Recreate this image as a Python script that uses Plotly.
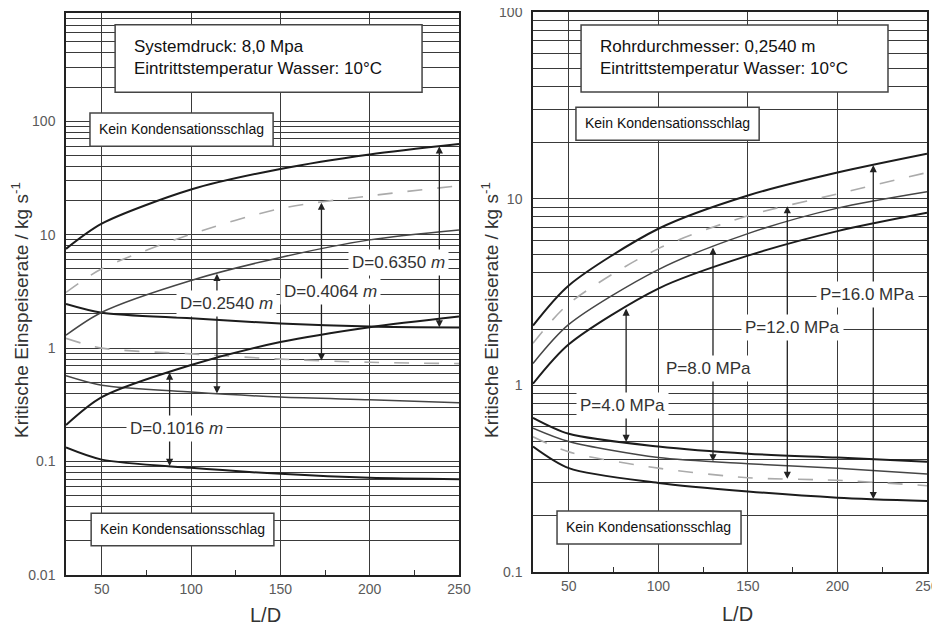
import numpy as np
import plotly.graph_objects as go

# ---------------- data ----------------
LD = [30, 50, 100, 150, 200, 250]

# left chart: system pressure 8.0 MPa, different pipe diameters
D0635_upper = [7.5, 12.5, 25, 38, 51, 63]
D0635_lower = [2.45, 2.05, 1.83, 1.65, 1.55, 1.52]
D04064_upper = [3.1, 5.0, 10.1, 17, 22, 27]
D04064_lower = [1.22, 1.0, 0.89, 0.8, 0.75, 0.73]
D0254_upper = [1.3, 2.07, 3.95, 6.3, 9.0, 11.0]
D0254_lower = [0.57, 0.47, 0.41, 0.37, 0.35, 0.33]
D01016_upper = [0.21, 0.37, 0.71, 1.13, 1.53, 1.9]
D01016_lower = [0.133, 0.104, 0.088, 0.078, 0.072, 0.07]

# right chart: diameter 0.2540 m, different pressures
P16_upper = [2.09, 3.43, 6.9, 10.4, 13.8, 17.4]
P12_upper = [1.68, 2.74, 5.4, 8.1, 10.6, 13.8]
P8_upper = [1.31, 2.12, 4.17, 6.5, 8.9, 10.9]
P4_upper = [1.02, 1.66, 3.3, 4.95, 6.7, 8.4]
P4_lower = [0.67, 0.55, 0.47, 0.43, 0.41, 0.39]
P8_lower = [0.59, 0.50, 0.41, 0.38, 0.36, 0.335]
P12_lower = [0.53, 0.44, 0.36, 0.32, 0.31, 0.29]
P16_lower = [0.47, 0.36, 0.30, 0.27, 0.25, 0.24]

# labels: (text, label L/D, label value, arrow L/D, upper, lower)
left_labels = [
    ("D=0.6350 <i>m</i>", 216, 5.7, 239, D0635_upper, D0635_lower),
    ("D=0.4064 <i>m</i>", 178, 3.15, 173, D04064_upper, D04064_lower),
    ("D=0.2540 <i>m</i>", 120, 2.47, 114.5, D0254_upper, D0254_lower),
    ("D=0.1016 <i>m</i>", 92, 0.197, 88, D01016_upper, D01016_lower),
]
right_labels = [
    ("P=16.0 MPa", 217, 3.07, 220, P16_upper, P16_lower),
    ("P=12.0 MPa", 175, 2.04, 172, P12_upper, P12_lower),
    ("P=8.0 MPa", 128, 1.23, 130.5, P8_upper, P8_lower),
    ("P=4.0 MPa", 80, 0.78, 82, P4_upper, P4_lower),
]

x_ticks = [50, 100, 150, 200, 250]
x_minor = [75, 125, 175, 225]

FONT = "Liberation Sans, Arial, sans-serif"
BLACK = "#1c1c1c"
DARK = "#464646"
GRAY = "#ababab"

W, H = 940, 631
OFF = 8  # page body margin


def px(x):
    return (x - OFF) / W


def py(y):
    return 1 - (y - OFF) / H


fig = go.Figure()

def add_curve(y, color, width, dash, xa, ya):
    fig.add_trace(go.Scatter(x=LD, y=y, mode="lines", xaxis=xa, yaxis=ya,
                             line=dict(color=color, width=width, dash=dash,
                                       shape="spline", smoothing=0.8),
                             showlegend=False, hoverinfo="skip"))

left_styles = [(BLACK, 2.0, "solid"), (GRAY, 1.6, "longdash"),
               (DARK, 1.5, "solid"), (BLACK, 2.0, "solid")]
for (lab, style) in zip(left_labels, left_styles):
    add_curve(lab[4], *style, "x", "y")
    add_curve(lab[5], *style, "x", "y")

right_styles = [(BLACK, 2.0, "solid"), (GRAY, 1.6, "longdash"),
                (DARK, 1.5, "solid"), (BLACK, 2.0, "solid")]
for (lab, style) in zip(right_labels, right_styles):
    add_curve(lab[4], *style, "x2", "y2")
    add_curve(lab[5], *style, "x2", "y2")

def log_ticks(lo, hi):
    vals, txt = [], []
    for e in range(lo, hi + 1):
        for m in range(1, 10):
            v = m * 10.0 ** e
            vals.append(v)
            if m == 1:
                txt.append(("%g" % v))
            else:
                txt.append("")
    return vals, txt

ly_vals, ly_txt = log_ticks(-2, 2)
ry_vals, ry_txt = log_ticks(-1, 1)
ry_vals.append(100); ry_txt.append("100")

axis_common = dict(showline=True, linecolor="#222", linewidth=1.5, mirror=True,
                   gridcolor="#3a3a3a", gridwidth=1, zeroline=False, automargin=False,
                   ticklabeloverflow="allow",
                   tickfont=dict(family=FONT, size=14, color="#5a5a5a"))

fig.update_layout(
    width=W, height=H,
    margin=dict(l=0, r=0, t=0, b=0, autoexpand=False),
    paper_bgcolor="white", plot_bgcolor="white",
    font=dict(family=FONT, color="#333"),
    xaxis=dict(domain=[px(66), px(459)], range=[30, 250], tickvals=x_ticks,
               ticks="", ticklabelstandoff=0,
               minor=dict(tickvals=x_minor, ticks="inside", ticklen=5, tickcolor="#333", showgrid=False),
               anchor="y", **axis_common),
    yaxis=dict(domain=[py(575), py(13)], type="log",
               range=[-2, np.log10(900)], tickvals=ly_vals, ticktext=ly_txt,
               ticks="", ticklabelstandoff=6, anchor="x", **axis_common),
    xaxis2=dict(domain=[px(533), px(927)], range=[30, 250], tickvals=x_ticks,
                ticks="", ticklabelstandoff=0,
                minor=dict(tickvals=x_minor, ticks="inside", ticklen=5, tickcolor="#333", showgrid=False),
                anchor="y2", **axis_common),
    yaxis2=dict(domain=[py(572), py(12)], type="log",
                range=[-1, 2], tickvals=ry_vals, ticktext=ry_txt,
                ticks="", ticklabelstandoff=6, anchor="x2", **axis_common),
)

annotations = []
shapes = []

def interp_log(xv, ys):
    return float(np.interp(xv, LD, np.log10(ys)))

def add_labels(labels, xr, yr):
    for text, lx, ly, axv, up, lo in labels:
        for curve in (up, lo):
            annotations.append(dict(
                x=axv, y=interp_log(axv, curve), xref=xr, yref=yr,
                ax=axv, ay=np.log10(ly), axref=xr, ayref=yr,
                text="", showarrow=True, arrowhead=2, arrowsize=1.1,
                arrowwidth=1.3, arrowcolor="#222", standoff=0))
    for text, lx, ly, axv, up, lo in labels:
        annotations.append(dict(
            x=lx, y=np.log10(ly), xref=xr, yref=yr, text=text, showarrow=False,
            bgcolor="white", borderpad=3, xanchor="center", yanchor="middle",
            font=dict(family=FONT, size=17, color="#333")))

add_labels(left_labels, "x", "y")
add_labels(right_labels, "x2", "y2")

def add_box(xd, yd, x0, x1, y0, y1):
    shapes.append(dict(type="rect", xref=xd, yref=yd, x0=x0, x1=x1, y0=y0, y1=y1,
                       line=dict(color="#444", width=1.5), fillcolor="white", layer="above"))

# left boxes
add_box("x domain", "y domain", 0.125, 0.906, 0.859, 0.979)
add_box("x domain", "y domain", 0.061, 0.527, 0.763, 0.822)
add_box("x domain", "y domain", 0.064, 0.529, 0.052, 0.110)
# right boxes
add_box("x2 domain", "y2 domain", 0.122, 0.901, 0.857, 0.977)
add_box("x2 domain", "y2 domain", 0.109, 0.574, 0.771, 0.830)
add_box("x2 domain", "y2 domain", 0.061, 0.528, 0.050, 0.109)

box_texts = [
    ("x domain", "y domain", 0.168, 0.921, "Systemdruck: 8,0 Mpa<br>Eintrittstemperatur Wasser: 10°C", 17, "left"),
    ("x domain", "y domain", 0.294, 0.793, "Kein Kondensationsschlag", 14, "center"),
    ("x domain", "y domain", 0.296, 0.081, "Kein Kondensationsschlag", 14, "center"),
    ("x2 domain", "y2 domain", 0.165, 0.919, "Rohrdurchmesser: 0,2540 m<br>Eintrittstemperatur Wasser: 10°C", 17, "left"),
    ("x2 domain", "y2 domain", 0.341, 0.801, "Kein Kondensationsschlag", 14, "center"),
    ("x2 domain", "y2 domain", 0.294, 0.0795, "Kein Kondensationsschlag", 14, "center"),
]
for xr, yr, x, y, t, s, anc in box_texts:
    annotations.append(dict(xref=xr, yref=yr, x=x, y=y, text=t, showarrow=False,
                            xanchor=anc, yanchor="middle", align="left",
                            font=dict(family=FONT, size=s, color="#111")))

# axis titles
ytitle = "Kritische Einspeiserate / kg s<sup>-1</sup>"
for tx in (20, 490):
    annotations.append(dict(xref="paper", yref="paper", x=px(tx), y=py(310),
                            text=ytitle, textangle=-90, showarrow=False,
                            xanchor="center", yanchor="middle",
                            font=dict(family=FONT, size=19, color="#333")))
for tx, ty in ((265, 615), (737, 614)):
    annotations.append(dict(xref="paper", yref="paper", x=px(tx), y=py(ty),
                            text="L/D", showarrow=False,
                            xanchor="center", yanchor="middle",
                            font=dict(family=FONT, size=20, color="#333")))

fig.update_layout(annotations=annotations, shapes=shapes)
fig.write_html("out.html")
